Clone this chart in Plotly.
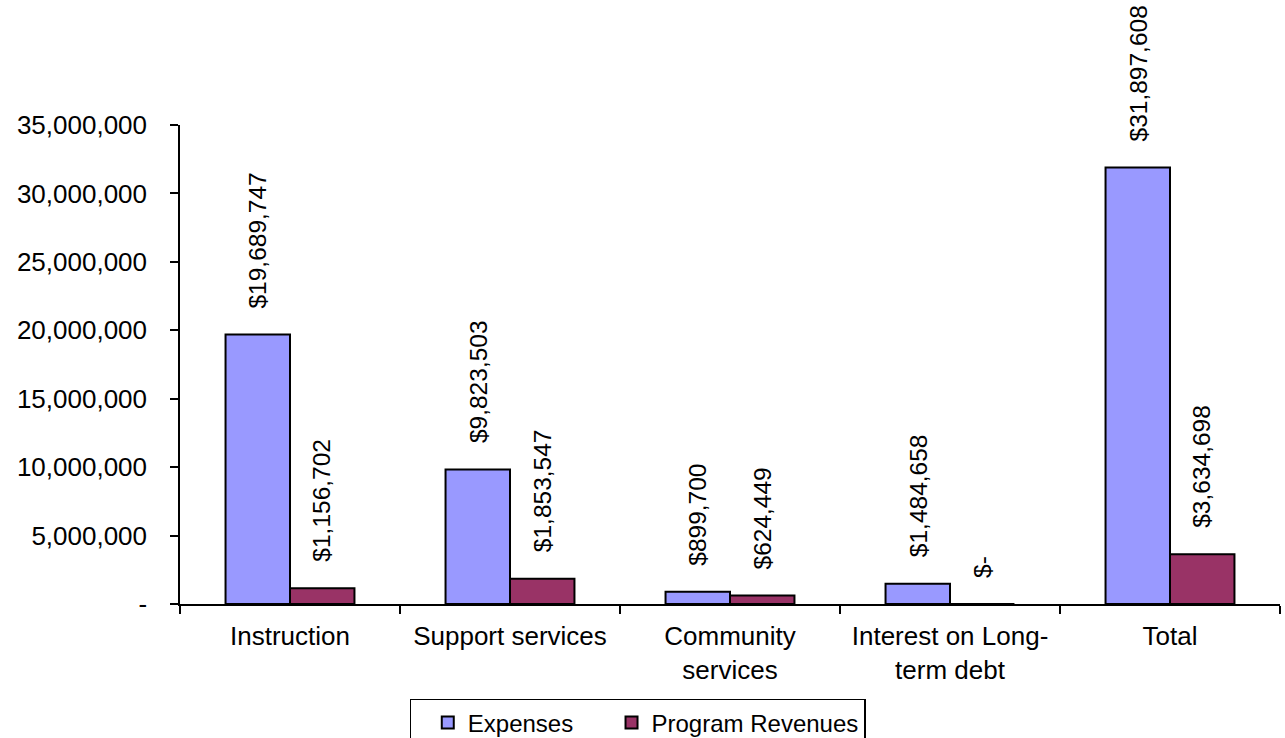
import plotly.graph_objects as go

categories = ["Instruction", "Support services", "Community<br>services",
              "Interest on Long-<br>term debt", "Total"]
expenses = [19689747, 9823503, 899700, 1484658, 31897608]
program_revenues = [1156702, 1853547, 624449, 0, 3634698]
y_tickvals = [0, 5000000, 10000000, 15000000, 20000000, 25000000, 30000000, 35000000]
y_ticktext = ["-", "5,000,000", "10,000,000", "15,000,000", "20,000,000",
              "25,000,000", "30,000,000", "35,000,000"]
series_names = ["Expenses", "Program Revenues"]

FONT = "Liberation Sans, Arial, sans-serif"
NB = "\u00a0"


def fmt(v):
    return f"${v:,.0f}" if v else "$-"


fig = go.Figure()
fig.add_trace(go.Bar(name=series_names[0] + NB * 5, x=categories, y=expenses,
                     marker=dict(color="#9999FF", line=dict(color="black", width=2))))
fig.add_trace(go.Bar(name=series_names[1], x=categories, y=program_revenues,
                     marker=dict(color="#993366", line=dict(color="black", width=2))))

annotations = []
for cat, v in zip(categories, expenses):
    annotations.append(dict(x=cat, y=v, xref="x", yref="y", text=fmt(v), showarrow=False,
                            textangle=-90, yanchor="bottom", xanchor="center",
                            xshift=-32, yshift=24, font=dict(size=24.5, color="black", family=FONT)))
for cat, v in zip(categories, program_revenues):
    annotations.append(dict(x=cat, y=v, xref="x", yref="y", text=fmt(v), showarrow=False,
                            textangle=-90, yanchor="bottom", xanchor="center",
                            xshift=32, yshift=24, font=dict(size=24.5, color="black", family=FONT)))

fig.update_layout(
    width=1285, height=738,
    margin=dict(l=180, r=5, t=125, b=134, autoexpand=False),
    paper_bgcolor="white", plot_bgcolor="white",
    font=dict(family=FONT, size=24, color="black"),
    barmode="group", bargap=0.414, bargroupgap=0,
    annotations=annotations,
    showlegend=True,
    legend=dict(orientation="h", x=0.416, xanchor="center", y=-0.198, yanchor="top",
                bordercolor="black", borderwidth=1.5, bgcolor="white",
                title=dict(text=NB, side="left", font=dict(size=24)),
                font=dict(size=24, family=FONT, color="black")),
    xaxis=dict(showline=True, linecolor="black", linewidth=1.5, ticks="outside",
               tickson="boundaries", ticklen=8, tickcolor="black", tickwidth=1.5,
               ticklabelstandoff=8,
               showgrid=False, tickfont=dict(size=26, family=FONT, color="black")),
    yaxis=dict(range=[0, 35000000], tickvals=y_tickvals, ticktext=y_ticktext,
               showline=True, linecolor="black", linewidth=1.5, ticks="outside",
               ticklen=8, tickcolor="black", tickwidth=1.5, showgrid=False, zeroline=False,
               ticklabelstandoff=18, tickfont=dict(size=26, family=FONT, color="black")),
)

fig.write_html("out.html")
